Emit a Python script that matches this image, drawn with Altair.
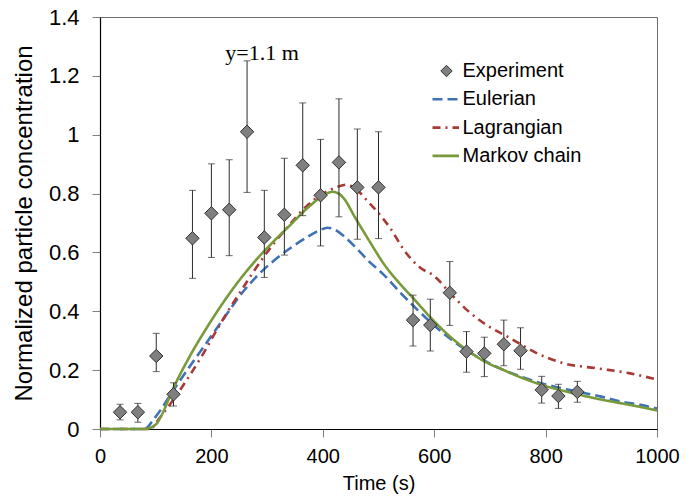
import altair as alt
import pandas as pd

# Experimental particle concentration at y = 1.1 m (mean with error-bar limits)
exp_time = [36, 68, 101, 132, 166, 200, 232, 264, 295, 331, 364, 396, 429,
            462, 500, 562, 593, 628, 658, 690, 725, 755, 793, 823, 857]
exp_conc = [0.057, 0.057, 0.248, 0.118, 0.648, 0.733, 0.745, 1.010, 0.651,
            0.728, 0.896, 0.794, 0.906, 0.821, 0.821, 0.370, 0.353, 0.463,
            0.263, 0.257, 0.288, 0.266, 0.133, 0.112, 0.126]
exp_low = [0.031, 0.023, 0.195, 0.078, 0.512, 0.583, 0.589, 0.804, 0.515,
           0.591, 0.725, 0.622, 0.721, 0.645, 0.647, 0.282, 0.265, 0.352,
           0.193, 0.178, 0.215, 0.203, 0.088, 0.070, 0.091]
exp_high = [0.084, 0.087, 0.325, 0.157, 0.811, 0.901, 0.915, 1.251, 0.811,
            0.920, 1.108, 0.984, 1.122, 1.019, 1.010, 0.455, 0.441, 0.569,
            0.331, 0.312, 0.370, 0.344, 0.179, 0.152, 0.162]

# Eulerian model
eul_time = [0, 80, 97, 109, 121, 140, 162, 192, 222, 252, 282, 312, 342, 372,
            395, 408, 420, 438, 460, 480, 510, 540, 570, 600, 630, 660, 690,
            725, 760, 793, 825, 857, 900, 934, 970, 1000]
eul_conc = [0, 0, 0.035, 0.065, 0.100, 0.155, 0.215, 0.295, 0.375, 0.455,
            0.520, 0.572, 0.615, 0.652, 0.676, 0.684, 0.679, 0.655, 0.615,
            0.575, 0.523, 0.462, 0.405, 0.352, 0.305, 0.265, 0.232, 0.200,
            0.175, 0.155, 0.140, 0.127, 0.110, 0.094, 0.082, 0.070]

# Lagrangian model
lag_time = [0, 90, 108, 130, 162, 186, 204, 228, 255, 294, 336, 370, 396, 420,
            443, 465, 480, 498, 522, 545, 560, 575, 600, 629, 659, 695, 737,
            785, 833, 893, 952, 1000]
lag_conc = [0, 0, 0.040, 0.095, 0.185, 0.258, 0.318, 0.395, 0.475, 0.585,
            0.685, 0.755, 0.795, 0.818, 0.830, 0.806, 0.775, 0.738, 0.680,
            0.610, 0.575, 0.548, 0.520, 0.461, 0.404, 0.352, 0.308, 0.257,
            0.223, 0.206, 0.189, 0.168]

# Markov chain model
mkv_time = [0, 80, 100, 110, 132, 162, 192, 222, 252, 282, 312, 342, 372, 400,
            417, 430, 440, 456, 480, 510, 540, 562, 593, 625, 659, 690, 725,
            760, 793, 825, 857, 900, 934, 970, 1000]
mkv_conc = [0, 0, 0.015, 0.045, 0.140, 0.250, 0.345, 0.432, 0.510, 0.578,
            0.638, 0.694, 0.750, 0.792, 0.806, 0.798, 0.778, 0.725, 0.650,
            0.560, 0.490, 0.445, 0.380, 0.320, 0.268, 0.230, 0.200, 0.172,
            0.150, 0.133, 0.118, 0.100, 0.088, 0.075, 0.063]

legend_labels = ["Experiment", "Eulerian", "Lagrangian", "Markov chain"]
x_ticks = [0, 200, 400, 600, 800, 1000]
y_ticks = [0, 0.2, 0.4, 0.6, 0.8, 1.0, 1.2, 1.4]

BLUE = "#3F72B5"
RED = "#A83A36"
GREEN = "#789A3A"
FONT = "Liberation Sans"

exp_df = pd.DataFrame({"t": exp_time, "c": exp_conc, "lo": exp_low, "hi": exp_high})

x_enc = alt.X("t:Q", scale=alt.Scale(domain=[0, 1000], nice=False),
              axis=alt.Axis(values=x_ticks, format="d", title="Time (s)"))
y_enc = alt.Y("c:Q", scale=alt.Scale(domain=[0, 1.4], nice=False),
              axis=alt.Axis(values=y_ticks, format="~g",
                            title="Normalized particle concentration"))


def curve(times, values, color, dash):
    df = pd.DataFrame({"t": times, "c": values})
    mark = alt.Chart(df).mark_line(color=color, strokeWidth=2.6,
                                   interpolate="monotone", strokeDash=dash)
    return mark.encode(x=x_enc, y=y_enc)


eul = curve(eul_time, eul_conc, BLUE, [10, 5])
lag = curve(lag_time, lag_conc, RED, [8, 5, 2, 5])
mkv = curve(mkv_time, mkv_conc, GREEN, [1, 0])

bars = alt.Chart(exp_df).mark_rule(color="#2b2b2b", strokeWidth=1).encode(
    x="t:Q", y="lo:Q", y2="hi:Q")
cap_lo = alt.Chart(exp_df).mark_tick(color="#2b2b2b", thickness=1, size=7,
                                     orient="horizontal").encode(x="t:Q", y="lo:Q")
cap_hi = alt.Chart(exp_df).mark_tick(color="#2b2b2b", thickness=1, size=7,
                                     orient="horizontal").encode(x="t:Q", y="hi:Q")
pts = alt.Chart(exp_df).mark_point(shape="diamond", size=180, filled=True,
                                   color="#7f7f7f", stroke="#303030",
                                   strokeWidth=1, opacity=1).encode(
    x="t:Q", y="c:Q")

note = alt.Chart(pd.DataFrame({"t": [225], "c": [1.254], "txt": ["y=1.1 m"]})).mark_text(
    font="Liberation Serif", fontSize=22, align="left", baseline="alphabetic",
    color="#000000").encode(x="t:Q", y="c:Q", text="txt:N")

# Legend drawn inside the plot area
one = pd.DataFrame({"k": [0]})
legend_layers = []
row_y = [54, 82.3, 110.6, 138.9]
styles = [None, (BLUE, [10, 5]), (RED, [8, 5, 2, 5]), (GREEN, [1, 0])]
for label, yy, style in zip(legend_labels, row_y, styles):
    if style is None:
        legend_layers.append(alt.Chart(one).mark_point(
            shape="diamond", size=130, filled=True, color="#7f7f7f",
            stroke="#303030", strokeWidth=1, opacity=1).encode(
            x=alt.value(346.5), y=alt.value(yy)))
    else:
        color, dash = style
        legend_layers.append(alt.Chart(one).mark_rule(
            color=color, strokeWidth=2.6, strokeDash=dash).encode(
            x=alt.value(332.5), x2=alt.value(359), y=alt.value(yy)))
    legend_layers.append(alt.Chart(one).mark_text(
        font=FONT, fontSize=20, align="left", baseline="middle",
        color="#000000").encode(x=alt.value(362.5), y=alt.value(yy),
                                text=alt.value(label)))

chart = alt.layer(eul, lag, mkv, bars, cap_lo, cap_hi, pts, note,
                  *legend_layers).properties(
    width=557, height=412,
    autosize=alt.AutoSizeParams(type="none"),
    padding={"left": 100, "top": 17, "right": 32, "bottom": 73},
    background="#ffffff",
).configure_view(
    stroke="#6e6e6e", strokeWidth=1
).configure_axis(
    grid=False, domainColor="#000000", domainWidth=1.2,
    tickColor="#7f7f7f", tickSize=8, tickWidth=1,
    labelFont=FONT, labelColor="#000000",
    titleFont=FONT, titleFontWeight="normal", titleColor="#000000",
).configure_axisY(
    labelFontSize=22, labelPadding=13, titleFontSize=24, titlePadding=12
).configure_axisX(
    labelFontSize=20, labelPadding=9, titleFontSize=20, titlePadding=7,
    labelFlush=False
)

chart.save("out.html", embed_options={"renderer": "svg", "actions": False})
